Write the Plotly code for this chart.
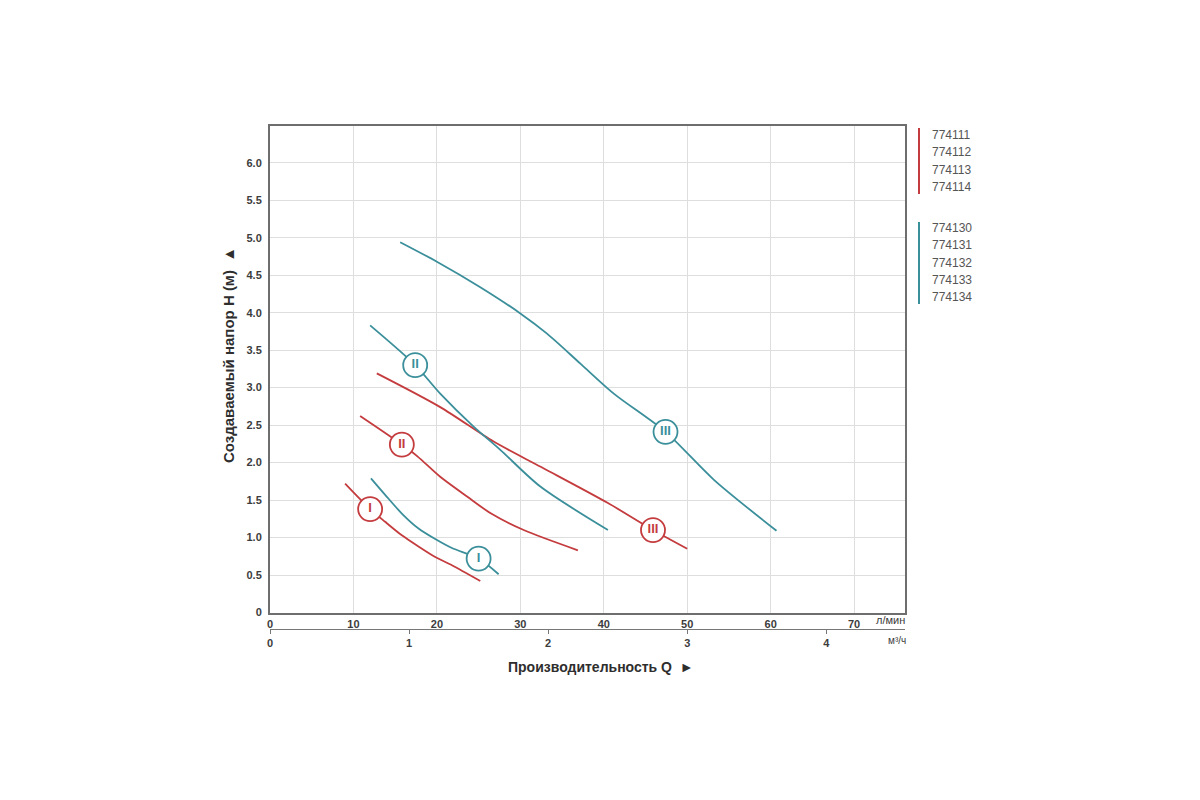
import plotly.graph_objects as go

# кривые насосов: расход (л/мин) и напор (м)
red1_q = [9.0, 12.0, 13.8, 15.8, 17.8, 19.8, 21.8, 25.2]
red1_h = [1.72, 1.38, 1.21, 1.03, 0.88, 0.74, 0.63, 0.42]
red2_q = [10.8, 15.8, 17.7, 20.4, 23.7, 26.5, 30.4, 36.9]
red2_h = [2.62, 2.24, 2.08, 1.81, 1.54, 1.32, 1.10, 0.83]
red3_q = [12.8, 20.4, 26.8, 32.5, 40.5, 45.9, 50.0]
red3_h = [3.19, 2.74, 2.28, 1.94, 1.46, 1.10, 0.85]

teal1_q = [12.1, 13.8, 15.8, 17.8, 19.8, 21.8, 25.0, 27.4]
teal1_h = [1.79, 1.57, 1.32, 1.12, 0.98, 0.86, 0.72, 0.51]
teal2_q = [12.0, 17.4, 20.4, 24.4, 27.6, 32.4, 40.5]
teal2_h = [3.83, 3.30, 2.92, 2.48, 2.17, 1.68, 1.10]
teal3_q = [15.6, 20.0, 25.2, 30.0, 33.2, 37.2, 41.2, 47.4, 53.2, 60.7]
teal3_h = [4.94, 4.68, 4.34, 3.99, 3.72, 3.32, 2.92, 2.41, 1.77, 1.09]

# положение кружков с номерами скоростей
red_mark_q = [12.0, 15.8, 45.9]
red_mark_h = [1.38, 2.24, 1.10]
teal_mark_q = [25.0, 17.4, 47.4]
teal_mark_h = [0.72, 3.30, 2.41]
speed_labels = ["<b>I</b>", "<b>II</b>", "<b>III</b>"]

red_models = ["774111", "774112", "774113", "774114"]
teal_models = ["774130", "774131", "774132", "774133", "774134"]

y_ticks = [0, 0.5, 1.0, 1.5, 2.0, 2.5, 3.0, 3.5, 4.0, 4.5, 5.0, 5.5, 6.0]
y_ticktext = ["0", "0.5", "1.0", "1.5", "2.0", "2.5", "3.0", "3.5", "4.0", "4.5", "5.0", "5.5", "6.0"]
x_ticks = [0, 10, 20, 30, 40, 50, 60, 70]
x2_ticks = [0, 1, 2, 3, 4]

RED = "#c43c3e"
TEAL = "#3b8f9b"
GRAY = "#3c3c3c"

# экранные пиксели области графика (страница смещена на 8 px)
OFF = 8
L, R, T, B = 270, 905, 126, 640
W, H = R - L, B - T


def px(x):
    return (x - L) / W


def py(y):
    return (B - y) / H


fig = go.Figure()

for q, h in [(red1_q, red1_h), (red2_q, red2_h), (red3_q, red3_h)]:
    fig.add_trace(go.Scatter(x=q, y=h, mode="lines",
                             line=dict(color=RED, width=1.8, shape="spline", smoothing=0.8),
                             hoverinfo="skip", showlegend=False))
for q, h in [(teal1_q, teal1_h), (teal2_q, teal2_h), (teal3_q, teal3_h)]:
    fig.add_trace(go.Scatter(x=q, y=h, mode="lines",
                             line=dict(color=TEAL, width=1.8, shape="spline", smoothing=0.8),
                             hoverinfo="skip", showlegend=False))

# кружки с римскими цифрами
for q, h, c in [(red_mark_q, red_mark_h, RED), (teal_mark_q, teal_mark_h, TEAL)]:
    fig.add_trace(go.Scatter(x=q, y=h, mode="markers+text", text=speed_labels,
                             textposition="middle center",
                             textfont=dict(color=c, size=13, family="Liberation Sans Narrow, Arial Narrow, sans-serif"),
                             marker=dict(size=24, color="white", line=dict(color=c, width=1.8)),
                             hoverinfo="skip", showlegend=False))

# второй масштаб м3/ч
fig.add_trace(go.Scatter(x=[0, 4.566], y=[None, None], xaxis="x2", showlegend=False, hoverinfo="skip"))

tick_font = dict(size=11, color=GRAY, family="Liberation Sans, Arial, sans-serif")

fig.update_layout(
    width=1200, height=800,
    margin=dict(l=L - OFF, r=1200 - R + OFF, t=T - OFF, b=800 - B + OFF),
    plot_bgcolor="white", paper_bgcolor="white",
    font=dict(family="Liberation Sans, Arial, sans-serif", color=GRAY),
    xaxis=dict(range=[0, 76.1], tickvals=x_ticks, ticktext=["<b>%d</b>" % v for v in x_ticks],
               showgrid=True, gridcolor="#dedede", gridwidth=1.2,
               zeroline=False, showline=True, linecolor="#6e6e6e", linewidth=2, mirror=True,
               ticks="", tickfont=tick_font, ticklabelstandoff=0),
    xaxis2=dict(range=[0, 4.566], tickvals=x2_ticks, ticktext=["<b>%d</b>" % v for v in x2_ticks],
                overlaying="x", anchor="free",
                position=py(629), side="bottom", showgrid=False, zeroline=False,
                showline=True, linecolor="#777777", linewidth=1.2, ticks="outside", ticklen=4,
                tickcolor="#777777", tickfont=tick_font),
    yaxis=dict(range=[0, 6.49], domain=[py(612.5), 1], tickvals=y_ticks,
               ticktext=["<b>%s</b>" % t for t in y_ticktext],
               showgrid=True, gridcolor="#dedede", gridwidth=1.2, zeroline=False,
               showline=True, linecolor="#6e6e6e", linewidth=2, mirror=True, ticks="",
               tickfont=tick_font, ticklabelstandoff=4),
)

annotations = [
    dict(text="<b>Производительность Q  ►</b>", x=px(601), y=py(667), font=dict(size=14, color="#2e2e2e")),
    dict(text="<b>Создаваемый напор H (м)  ▲</b>", x=px(228), y=py(355), textangle=-90,
         font=dict(size=15, color="#2e2e2e")),
    dict(text="л/мин", x=px(890), y=py(620), font=dict(size=11, color=GRAY)),
    dict(text="м³/ч", x=px(897), y=py(640), font=dict(size=10, color=GRAY)),
]
for i, m in enumerate(red_models):
    annotations.append(dict(text=m, x=px(930), y=py(135 + i * 17.4), xanchor="left",
                            font=dict(size=12, color="#555555")))
for i, m in enumerate(teal_models):
    annotations.append(dict(text=m, x=px(930), y=py(228 + i * 17.3), xanchor="left",
                            font=dict(size=12, color="#555555")))
for a in annotations:
    a.setdefault("xref", "paper")
    a.setdefault("yref", "paper")
    a.setdefault("xanchor", "center")
    a.setdefault("yanchor", "middle")
    a.setdefault("showarrow", False)
fig.update_layout(annotations=annotations)

# вертикальные полосы легенды
fig.add_shape(type="line", xref="paper", yref="paper", x0=px(919), x1=px(919), y0=py(128), y1=py(194),
              line=dict(color=RED, width=2))
fig.add_shape(type="line", xref="paper", yref="paper", x0=px(919), x1=px(919), y0=py(222), y1=py(304),
              line=dict(color=TEAL, width=2))

fig.write_html("out.html")
